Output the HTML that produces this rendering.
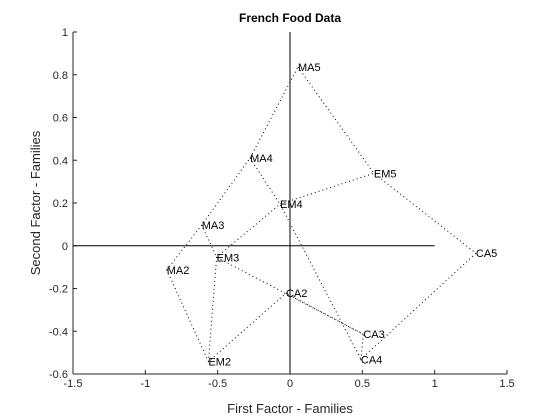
<!DOCTYPE html>
<html><head><meta charset="utf-8"><style>
body{margin:0;background:#fff;}
svg{display:block;font-family:"Liberation Sans",sans-serif;}
</style></head><body>
<svg id="chart" width="560" height="420">
<rect width="560" height="420" fill="#fff"/>
<text x="290" y="22" text-anchor="middle" font-size="12" font-weight="bold">French Food Data</text>
<text x="290" y="413" text-anchor="middle" font-size="13" fill="#262626">First Factor - Families</text>
<text x="0" y="0" transform="translate(40,203) rotate(-90)" text-anchor="middle" font-size="13" fill="#262626">Second Factor - Families</text>
<g id="axes"></g><g id="marks"></g>
</svg>
<script>
const labels=["MA2","EM2","CA2","MA3","EM3","CA3","MA4","EM4","CA4","MA5","EM5","CA5"];
const xs=[-0.852,-0.564,-0.028,-0.61,-0.507,0.507,-0.276,-0.069,0.49,0.055,0.58,1.285];
const ys=[-0.113,-0.542,-0.222,0.097,-0.054,-0.414,0.41,0.195,-0.531,0.836,0.339,-0.035];
const xTicks=[-1.5,-1,-0.5,0,0.5,1,1.5];
const yTicks=[1,0.8,0.6,0.4,0.2,0,-0.2,-0.4,-0.6];
const X=v=>290+v*144.67, Y=v=>245.75-v*213.75;
const NS="http://www.w3.org/2000/svg";
function mk(t,a,p){const e=document.createElementNS(NS,t);for(const k in a)e.setAttribute(k,a[k]);p.appendChild(e);return e;}
const ax=document.getElementById('axes'), mg=document.getElementById('marks');
let l=mk('line',{x1:X(-1.5),y1:Y(-0.6),x2:X(1.5),y2:Y(-0.6),stroke:'#262626'},ax);


l=mk('line',{x1:X(-1.5),y1:Y(-0.6),x2:X(-1.5),y2:Y(1),stroke:'#262626'},ax);


xTicks.forEach(v=>{mk('line',{x1:X(v),x2:X(v),y1:Y(-0.6),y2:Y(-0.6)-4,stroke:'#262626'},ax);
 const t=mk('text',{x:X(v),y:Y(-0.6)+13,'text-anchor':'middle','font-size':11,fill:'#262626'},ax);t.textContent=v;
 
 });
yTicks.forEach(v=>{mk('line',{x1:X(-1.5),x2:X(-1.5)+4,y1:Y(v),y2:Y(v),stroke:'#262626'},ax);
 const t=mk('text',{x:X(-1.5)-5,y:Y(v)+4,'text-anchor':'end','font-size':11,fill:'#262626'},ax);t.textContent=v;
 
 });
l=mk('line',{x1:X(-1.5),y1:Y(0),x2:X(1),y2:Y(0),stroke:'#000'},mg);


l=mk('line',{x1:X(0),y1:Y(-0.6),x2:X(0),y2:Y(1),stroke:'#000'},mg);


const paths=[[0,3,6,9],[1,4,7,10],[2,5,8,11],[0,1,2],[3,4,5],[6,7,8],[9,10,11]];
paths.forEach(p=>{const pl=mk('polyline',{points:p.map(i=>X(xs[i])+','+Y(ys[i])).join(' '),fill:'none',stroke:'#000','stroke-width':1,'stroke-dasharray':'1 3'},mg);
 
 });
labels.forEach((s,i)=>{const t=mk('text',{x:X(xs[i]),y:Y(ys[i])+4,'font-size':11,fill:'#000'},mg);t.textContent=s;
 
 });
</script>
</body></html>
